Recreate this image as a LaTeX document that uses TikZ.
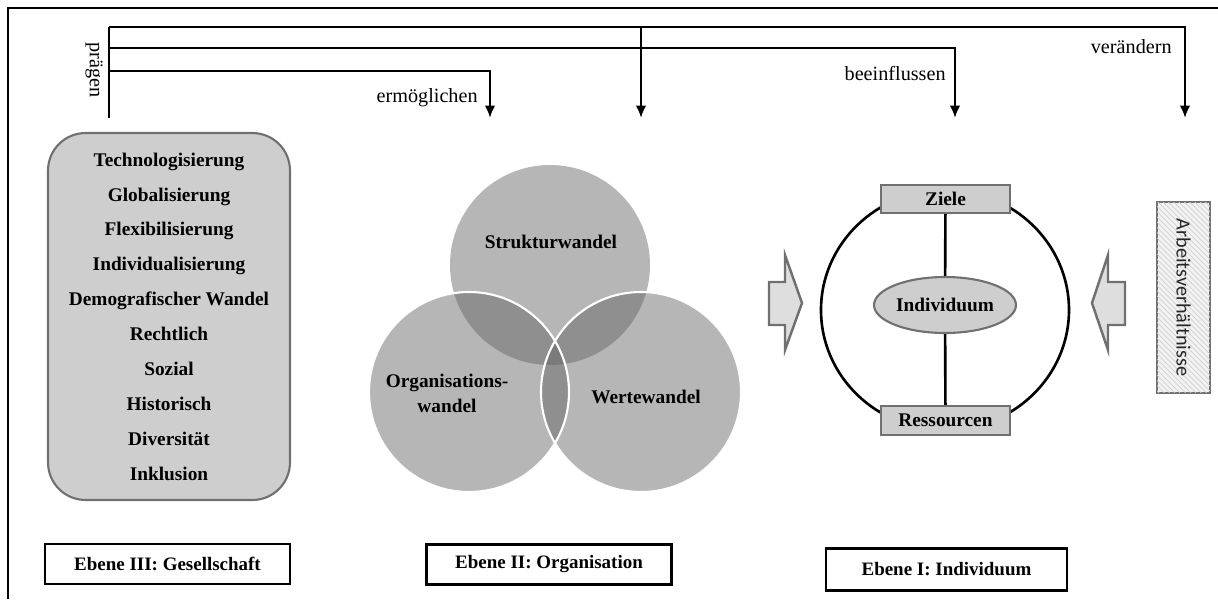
\documentclass[tikz,border=0pt]{standalone}
\usepackage{fontspec}
\setmainfont{Liberation Serif}
\newfontfamily\sansf{Carlito}
\usetikzlibrary{arrows.meta,patterns,shapes.geometric}

\definecolor{boxfill}{RGB}{206,206,206}
\definecolor{boxdraw}{RGB}{112,112,112}
\definecolor{vA}{RGB}{182,182,182}
\definecolor{vB}{RGB}{143,143,143}
\definecolor{vC}{RGB}{122,122,122}
\definecolor{arrfill}{RGB}{222,222,222}

\begin{document}
\begin{tikzpicture}[x=0.02cm,y=-0.02cm,
 conn/.style={line width=1.5pt, line join=miter},
 conarr/.style={conn,-{Latex[length=7pt,width=6pt]}},
 lbl/.style={font=\fontsize{11.5}{13}\selectfont, inner sep=0pt},
 vlbl/.style={font=\bfseries\fontsize{11}{14.2}\selectfont, inner sep=0pt},
 ebene/.style={draw=black, line width=1.5pt, fill=white, minimum width=4.9cm, minimum height=0.8cm, font=\bfseries\fontsize{10.8}{12}\selectfont},
 graybox/.style={draw=boxdraw, line width=1.2pt, fill=boxfill, font=\bfseries\fontsize{11}{13}\selectfont},
 bigarrow/.style={draw=boxdraw, fill=arrfill, line width=1.4pt, line join=miter},
 ]
\useasboundingbox (0,0) rectangle (1218,599);
\fill[white] (0,0) rectangle (1218,599);
% frame
\draw[line width=1pt] (8,599) -- (8,8) -- (1218,8);

% connector routes
\coordinate (src) at (109,118);
\coordinate (k1) at (109,27);
\coordinate (k2) at (109,48);
\coordinate (k3) at (109,71);
\coordinate (c1) at (1185,27);
\coordinate (c2) at (955,48);
\coordinate (c3) at (490,71);
\coordinate (b1) at (641,27);
\coordinate (t1) at (1185,118);
\coordinate (t2) at (955,118);
\coordinate (t3) at (490,118);
\coordinate (t4) at (641,118);

\draw[conn] (src) -- (k1);
\draw[conarr] (k1) -- (c1) -- (t1);
\draw[conarr] (k2) -- (c2) -- (t2);
\draw[conarr] (k3) -- (c3) -- (t3);
\draw[conarr] (b1) -- (t4);

\node[lbl, anchor=east] (lerm) at (478,98) {ermöglichen};
\node[lbl, anchor=east] (lbee) at (946,73) {beeinflussen};
\node[lbl, anchor=east] (lver) at (1172,47) {verändern};
\node[lbl, rotate=-90] (lpra) at (94,70) {prägen};

% Ebene III box
\node[graybox, rounded corners=0.75cm, minimum width=4.84cm, minimum height=7.34cm, align=center,
      font=\bfseries\fontsize{11}{19.85}\selectfont] (ges) at (169,316.5)
 {Technologisierung\\Globalisierung\\Flexibilisierung\\Individualisierung\\Demografischer Wandel\\Rechtlich\\Sozial\\Historisch\\Diversität\\Inklusion};

% Venn
\coordinate (vs) at (550,265);
\coordinate (vo) at (469,392);
\coordinate (vw) at (641,392);
\fill[vA] (vs) circle[radius=100] (vo) circle[radius=100] (vw) circle[radius=100];
\begin{scope}
 \clip (vs) circle[radius=100];
 \fill[vB] (vo) circle[radius=100] (vw) circle[radius=100];
\end{scope}
\begin{scope}
 \clip (vo) circle[radius=100];
 \fill[vB] (vw) circle[radius=100];
\end{scope}
\begin{scope}
 \clip (vs) circle[radius=100];
 \clip (vo) circle[radius=100];
 \fill[vC] (vw) circle[radius=100];
\end{scope}
\draw[white, line width=1.2pt] (vw) circle[radius=100];
\draw[white, line width=1.2pt] (vo) circle[radius=100];
\node[vlbl] (vst) at (551,242) {Strukturwandel};
\node[vlbl, align=center] (vor) at (447,393) {Organisations-\\wandel};
\node[vlbl] (vwe) at (646,397) {Wertewandel};

% Individuum
\draw[line width=1.5pt] (945,310) ellipse[x radius=124, y radius=120];
\node[graybox, minimum width=2.58cm, minimum height=0.56cm, inner sep=0pt] (ziele) at (945.5,199) {Ziele};
\node[graybox, minimum width=2.58cm, minimum height=0.58cm, inner sep=0pt] (ress) at (945.5,420.5) {Ressourcen};
\node[graybox, ellipse, minimum width=2.84cm, minimum height=1.12cm, inner sep=0pt] (ind) at (945,305) {Individuum};
\draw[line width=1.5pt] (ziele) -- (ind);
\draw[line width=1.5pt] (ind) -- (ress);

\draw[bigarrow] (769,282) -- (785,282) -- (785,255) -- (802,303) -- (785,350) -- (785,325) -- (769,325) -- cycle;
\draw[bigarrow] (1125,282) -- (1108,282) -- (1108,255) -- (1092,303) -- (1108,350) -- (1108,325) -- (1125,325) -- cycle;

\node[draw=boxdraw, line width=1.2pt, fill=black!5, rotate=-90, minimum width=3.82cm, minimum height=1.06cm,
      font=\sansf\fontsize{11.5}{13}\selectfont, text=black!85,
      postaction={pattern=north west lines, pattern color=black!18}] (arb) at (1183.5,297.5) {Arbeitsverhältnisse};

% Ebene labels
\node[ebene] (e3) at (167.5,564) {Ebene III: Gesellschaft};
\node[ebene] (e2) at (549,564.5) {Ebene II: Organisation};
\node[ebene, minimum width=4.82cm, minimum height=0.84cm] (e1) at (946.5,569.5) {Ebene I: Individuum};
\end{tikzpicture}
\end{document}
